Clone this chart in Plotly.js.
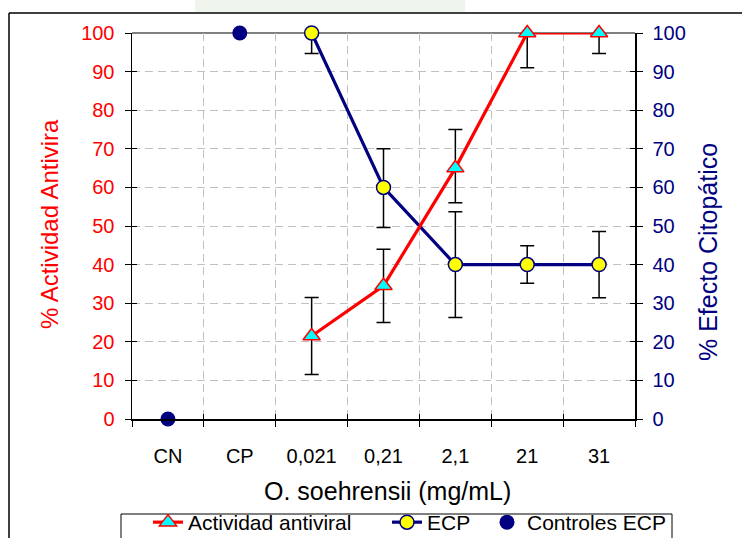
<!DOCTYPE html>
<html>
<head>
<meta charset="utf-8">
<script src="https://cdn.plot.ly/plotly-3.0.1.min.js"></script>
<style>html,body{margin:0;padding:0;background:#fff;}#chart{width:742px;height:538px;}</style>
</head>
<body>
<div id="chart"></div>
<script>
// ---- data ----
var categories = ['CN', 'CP', '0,021', '0,21', '2,1', '21', '31'];
var yTicks = [0, 10, 20, 30, 40, 50, 60, 70, 80, 90, 100];

var antiviral        = [null, null, 21.5, 34.5, 65, 100, 100];
var antiviralErrPlus = [null, null, 10, 9.5, 10, 0, 0];
var antiviralErrMinus= [null, null, 10, 9.5, 9, 9, 5.3];

var ecp         = [null, null, 100, 60, 40, 40, 40];
var ecpErrPlus  = [null, null, 0, 10, 13.7, 4.9, 8.6];
var ecpErrMinus = [null, null, 5.3, 10.4, 13.7, 4.8, 8.6];

var controles = [0, 100, null, null, null, null, null];

var FONT = 'Liberation Sans, Arial, sans-serif';
var RED = '#FF0000', NAVY = '#000080';

var boundaries = categories.map(function(_, i){ return i - 0.5; }).concat([categories.length - 0.5]);

// empty helper traces so that the overlaying tick-only axes get drawn
function axisHolder(xa, ya){
  return {x: [], y: [], type: 'scatter', mode: 'markers', xaxis: xa, yaxis: ya,
          showlegend: false, hoverinfo: 'skip'};
}

var traces = [
  {
    name: 'ECP', x: categories, y: ecp, type: 'scatter', mode: 'lines+markers',
    line: {color: NAVY, width: 3.2}, cliponaxis: false,
    marker: {symbol: 'circle', size: 14, color: '#FFFF00', line: {color: NAVY, width: 1.5}},
    error_y: {type: 'data', symmetric: false, array: ecpErrPlus, arrayminus: ecpErrMinus,
              color: '#000000', thickness: 1.5, width: 7},
    legend: 'legend2'
  },
  {
    name: 'Controles ECP', x: categories, y: controles, type: 'scatter', mode: 'markers',
    marker: {symbol: 'circle', size: 15, color: NAVY}, cliponaxis: false,
    legend: 'legend3'
  },
  {
    name: 'Actividad antiviral', x: categories, y: antiviral, type: 'scatter', mode: 'lines+markers',
    line: {color: RED, width: 3.2}, cliponaxis: false,
    marker: {symbol: 'triangle-up', size: 15, color: '#00FFFF', line: {color: RED, width: 1.5}},
    error_y: {type: 'data', symmetric: false, array: antiviralErrPlus, arrayminus: antiviralErrMinus,
              color: '#000000', thickness: 1.5, width: 7},
    legend: 'legend'
  },
  axisHolder('x', 'y2'),
  axisHolder('x', 'y3'),
  axisHolder('x', 'y4'),
  axisHolder('x2', 'y')
];

var px = function(p){ return (p - 132) / 503; };
var py = function(p){ return (419 - p) / 386; };

function legendAt(xPix){
  return {
    orientation: 'h', x: px(xPix), xanchor: 'left', y: py(502), yanchor: 'top',
    borderwidth: 0, bgcolor: 'rgba(0,0,0,0)',
    font: {family: FONT, size: 21, color: '#000000'}, itemwidth: 30
  };
}

var layout = {
  width: 742, height: 538,
  margin: {l: 132, r: 107, t: 33, b: 119, pad: 0, autoexpand: false},
  paper_bgcolor: '#ffffff', plot_bgcolor: '#ffffff',
  font: {family: FONT, size: 20, color: '#000000'},
  showlegend: true,
  legend: legendAt(148),
  legend2: legendAt(387),
  legend3: legendAt(487),
  xaxis: {
    type: 'category', categoryorder: 'array', categoryarray: categories,
    range: [-0.5, categories.length - 0.5],
    tickson: 'boundaries', ticks: 'outside', ticklen: 6, tickwidth: 1, tickcolor: '#000',
    showline: true, linecolor: '#000000', linewidth: 1.5,
    showgrid: true, gridcolor: '#c0c0c0', griddash: '8px,5px', gridwidth: 1,
    zeroline: false, ticklabelstandoff: 18,
    tickfont: {family: FONT, size: 20, color: '#000000'}
  },
  xaxis2: {
    overlaying: 'x', anchor: 'y', type: 'linear', range: [-0.5, categories.length - 0.5],
    tickmode: 'array', tickvals: boundaries, ticks: 'inside', ticklen: 5, tickcolor: '#000',
    showticklabels: false, showgrid: false, zeroline: false, showline: false
  },
  yaxis: {
    range: [0, 100], tickmode: 'array', tickvals: yTicks,
    ticks: 'outside', ticklen: 6, tickcolor: '#000',
    showline: true, linecolor: '#000000', linewidth: 1.5,
    showgrid: true, gridcolor: '#c0c0c0', griddash: '8px,5px', gridwidth: 1,
    zeroline: false, ticklabelstandoff: 6,
    tickfont: {family: FONT, size: 20, color: RED}
  },
  yaxis2: {
    overlaying: 'y', side: 'right', anchor: 'x', range: [0, 100],
    tickmode: 'array', tickvals: yTicks, ticks: 'outside', ticklen: 6, tickcolor: '#000',
    showline: true, linecolor: '#000000', linewidth: 1.5,
    showgrid: false, zeroline: false, ticklabelstandoff: 6,
    tickfont: {family: FONT, size: 20, color: NAVY}
  },
  yaxis3: {
    overlaying: 'y', side: 'left', anchor: 'x', range: [0, 100],
    tickmode: 'array', tickvals: yTicks, ticks: 'inside', ticklen: 5, tickcolor: '#000',
    showticklabels: false, showgrid: false, zeroline: false, showline: false
  },
  yaxis4: {
    overlaying: 'y', side: 'right', anchor: 'x', range: [0, 100],
    tickmode: 'array', tickvals: yTicks, ticks: 'inside', ticklen: 5, tickcolor: '#000',
    showticklabels: false, showgrid: false, zeroline: false, showline: false
  },
  shapes: [
    {type: 'line', xref: 'paper', yref: 'paper', x0: 0, x1: 1, y0: 1, y1: 1,
     line: {color: '#808080', width: 2}, layer: 'below'},
    {type: 'line', xref: 'paper', yref: 'paper', x0: px(9), x1: px(9), y0: py(13), y1: py(560),
     line: {color: '#000000', width: 1.5}},
    {type: 'line', xref: 'paper', yref: 'paper', x0: px(9), x1: px(760), y0: py(13), y1: py(13),
     line: {color: '#000000', width: 1.5}},
    {type: 'rect', xref: 'paper', yref: 'paper', x0: px(195), x1: px(465), y0: py(12), y1: py(0),
     line: {width: 0}, fillcolor: 'rgba(220,232,215,0.45)', layer: 'below'},
    {type: 'rect', xref: 'paper', yref: 'paper', x0: px(121), x1: px(672), y0: py(514), y1: py(580),
     line: {color: '#000000', width: 1}, fillcolor: 'rgba(0,0,0,0)', layer: 'above'}
  ],
  annotations: [
    {text: 'O. soehrensii (mg/mL)', xref: 'paper', yref: 'paper', x: px(387), y: py(491),
     xanchor: 'center', yanchor: 'middle', showarrow: false,
     font: {family: FONT, size: 25, color: '#000000'}},
    {text: '% Actividad Antivira', xref: 'paper', yref: 'paper', x: px(49), y: py(224),
     xanchor: 'center', yanchor: 'middle', showarrow: false, textangle: -90,
     font: {family: FONT, size: 24, color: RED}},
    {text: '% Efecto Citopático', xref: 'paper', yref: 'paper', x: px(708), y: py(252),
     xanchor: 'center', yanchor: 'middle', showarrow: false, textangle: -90,
     font: {family: FONT, size: 25, color: NAVY}}
  ]
};

Plotly.newPlot('chart', traces, layout, {displayModeBar: false, staticPlot: true});
</script>
</body>
</html>
